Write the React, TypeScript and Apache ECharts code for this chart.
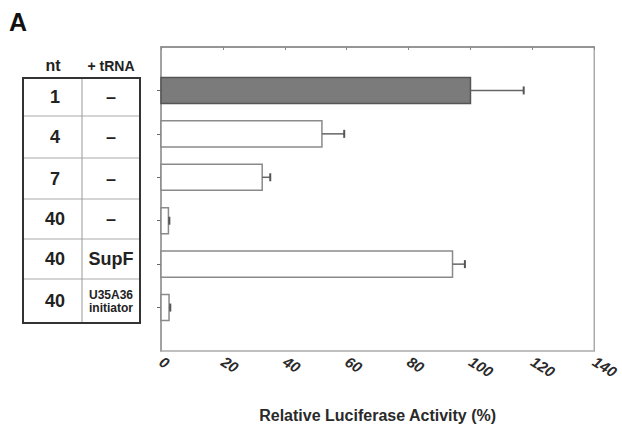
import React, { useEffect, useRef } from "react";
import * as echarts from "echarts";

// Table columns (left panel)
const ntLabels = ["1", "4", "7", "40", "40", "40"];
const trnaLabels = ["–", "–", "–", "–", "SupF", "U35A36\ninitiator"];
// Relative luciferase activity (%) and one-sided error
const activity = [100, 52, 32.7, 2.4, 94.2, 2.6];
const errors = [17.2, 7.2, 2.6, 0.3, 4.0, 0.4];
const xTicks = { min: 0, max: 140, interval: 20 };
const axisTitle = "Relative Luciferase Activity (%)";
const panelLabel = "A";

const FONT = "'Liberation Sans', Arial, sans-serif";

export default function App() {
  const ref = useRef<HTMLDivElement>(null);
  useEffect(() => {
    if (!ref.current) return;
    const chart = echarts.init(ref.current, null, { renderer: "svg" });
    const rowPos = activity.map((_, i) => i + 1);
    const barData = activity.map((v, i) => [v, rowPos[i], errors[i]]);

    // table layout
    const tLeft = 23, tRight = 140, tDiv = 82;
    const rowLines = [78, 116, 158, 199, 239, 279, 323];
    const graphics: any[] = [];
    graphics.push({
      type: "text",
      left: 9,
      top: 9,
      style: { text: panelLabel, font: `bold 25px ${FONT}`, fill: "#111" },
    });
    graphics.push({
      type: "text",
      x: 53, y: 65,
      style: { text: "nt", font: `bold 16px ${FONT}`, fill: "#222", align: "center", verticalAlign: "middle" },
    });
    graphics.push({
      type: "text",
      x: 111, y: 66,
      style: { text: "+ tRNA", font: `bold 14px ${FONT}`, fill: "#222", align: "center", verticalAlign: "middle" },
    });
    for (let i = 1; i < rowLines.length - 1; i++) {
      graphics.push({
        type: "line",
        shape: { x1: tLeft, y1: rowLines[i], x2: tRight, y2: rowLines[i] },
        style: { stroke: "#aaa", lineWidth: 1 },
      });
    }
    graphics.push({
      type: "line",
      shape: { x1: tDiv, y1: rowLines[0], x2: tDiv, y2: rowLines[rowLines.length - 1] },
      style: { stroke: "#999", lineWidth: 1 },
    });
    graphics.push({
      type: "rect",
      shape: { x: tLeft, y: rowLines[0], width: tRight - tLeft, height: rowLines[rowLines.length - 1] - rowLines[0] },
      style: { fill: "none", stroke: "#333", lineWidth: 2 },
    });
    ntLabels.forEach((t, i) => {
      const cy = (rowLines[i] + rowLines[i + 1]) / 2;
      graphics.push({
        type: "text",
        x: 55, y: cy,
        style: { text: t, font: `bold 18px ${FONT}`, fill: "#222", align: "center", verticalAlign: "middle" },
      });
      const tr = trnaLabels[i];
      const small = tr.includes("\n");
      graphics.push({
        type: "text",
        x: 111, y: cy,
        style: {
          text: tr,
          font: small ? `bold 12px ${FONT}` : `bold 18px ${FONT}`,
          lineHeight: small ? 13 : 20,
          fill: "#222",
          align: "center",
          verticalAlign: "middle",
        },
      });
    });

    chart.setOption({
      animation: false,
      backgroundColor: "#fff",
      grid: {
        left: 161, right: 26, top: 47, bottom: 78,
        show: true, borderColor: "#aaa", borderWidth: 1.5,
      },
      xAxis: {
        type: "value",
        min: xTicks.min, max: xTicks.max, interval: xTicks.interval,
        splitLine: { show: false },
        axisLine: { show: true, lineStyle: { color: "#888", width: 1.5 } },
        axisTick: { show: true, length: 3, lineStyle: { color: "#888" } },
        axisLabel: {
          rotate: -32, margin: 9,
          fontFamily: FONT, fontWeight: "bold", fontStyle: "italic", fontSize: 15, color: "#2a2a2a",
        },
        name: axisTitle,
        nameLocation: "middle",
        nameGap: 56,
        nameTextStyle: { fontFamily: FONT, fontWeight: "bold", fontSize: 16, color: "#2a2a2a" },
      },
      yAxis: {
        type: "value",
        min: 0, max: 7, interval: 1, inverse: true,
        splitLine: { show: false },
        axisLabel: { show: false },
        axisLine: { show: true, lineStyle: { color: "#999", width: 1.5 } },
        axisTick: { show: true, length: 4, customValues: rowPos, lineStyle: { color: "#666" } },
      },
      graphic: graphics,
      series: [
        {
          type: "custom",
          encode: { x: 0, y: 1 },
          data: barData,
          renderItem: (params: any, api: any) => {
            const v = api.value(0);
            const y = api.value(1);
            const s = api.coord([0, y]);
            const e = api.coord([v, y]);
            const h = api.size([0, 0.6])[1];
            const first = params.dataIndex === 0;
            return {
              type: "rect",
              shape: { x: s[0], y: s[1] - h / 2, width: e[0] - s[0], height: h },
              style: {
                fill: first ? "#7b7b7b" : "#fff",
                stroke: first ? "#555" : "#8a8a8a",
                lineWidth: 1.5,
              },
            };
          },
        },
        {
          type: "custom",
          encode: { x: 0, y: 1 },
          data: barData,
          z: 3,
          renderItem: (params: any, api: any) => {
            const v = api.value(0);
            const y = api.value(1);
            const err = api.value(2);
            const e = api.coord([v, y]);
            const t = api.coord([v + err, y]);
            const cap = 4;
            return {
              type: "group",
              children: [
                { type: "line", shape: { x1: e[0], y1: e[1], x2: t[0], y2: t[1] }, style: { stroke: "#666", lineWidth: 1.5 } },
                { type: "line", shape: { x1: t[0], y1: t[1] - cap, x2: t[0], y2: t[1] + cap }, style: { stroke: "#555", lineWidth: 2 } },
              ],
            };
          },
        },
      ],
    });
    return () => chart.dispose();
  }, []);
  return (
    <div
      ref={ref}
      style={{ position: "fixed", left: 0, top: 0, width: 622, height: 429 }}
    />
  );
}
